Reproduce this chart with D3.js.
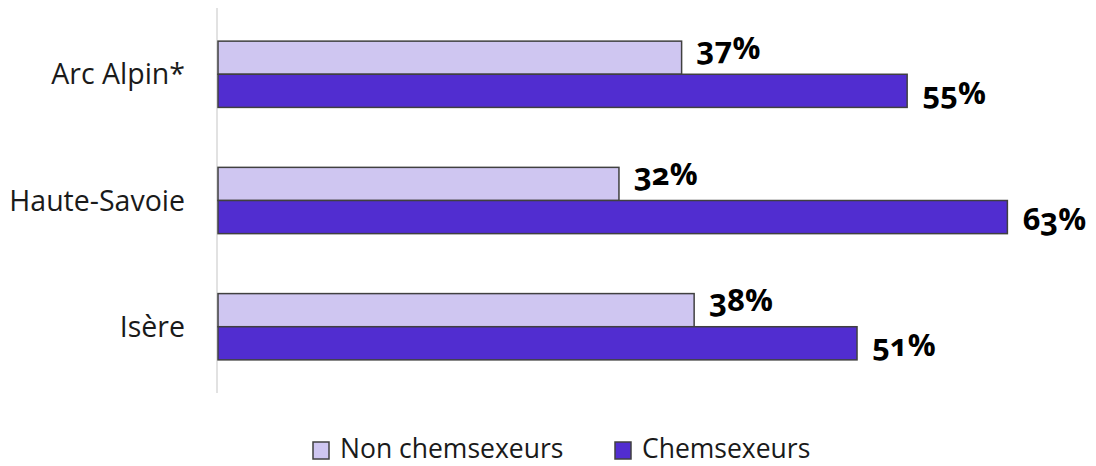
<!DOCTYPE html>
<html><head><meta charset="utf-8">
<script src="https://cdn.jsdelivr.net/npm/d3@7"></script>
<style>
body{margin:0;background:#fff;}
svg text{font-family:"Open Sans",sans-serif;}
</style></head>
<body><svg id="c" width="1096" height="466"></svg>
<script>
const categories = ["Arc Alpin*", "Haute-Savoie", "Isère"];
const seriesNames = ["Non chemsexeurs", "Chemsexeurs"];
const nonChem = [0.37, 0.32, 0.38];
const chem = [0.55, 0.63, 0.51];
const colors = ["#cfc6f1", "#512dd0"];

const svg = d3.select("#c");
const x0 = 218;
const x = d3.scaleLinear().domain([0, 1]).range([x0, x0 + 1253]);
const y = d3.scaleBand().domain(categories).range([8, 393]).paddingInner(0.475).paddingOuter(0.2625);
const yIn = d3.scaleBand().domain(seriesNames).range([0, y.bandwidth()]);

const rows = categories.map((c, i) => ({cat: c, vals: [nonChem[i], chem[i]]}));

// axis line
svg.append("line").attr("x1", 217).attr("x2", 217).attr("y1", 8).attr("y2", 393)
  .attr("stroke", "#d9d9d9").attr("stroke-width", 1.5);

const g = svg.selectAll("g.grp").data(rows).join("g").attr("class", "grp")
  .attr("transform", d => `translate(0,${y(d.cat)})`);

g.selectAll("rect").data(d => d.vals.map((v, k) => ({v, k}))).join("rect")
  .attr("x", x(0)).attr("y", d => yIn(seriesNames[d.k]))
  .attr("width", d => x(d.v) - x(0)).attr("height", yIn.bandwidth())
  .attr("fill", d => colors[d.k]).attr("stroke", "#404040").attr("stroke-width", 1.5);

g.selectAll("text.val").data(d => d.vals.map((v, k) => ({v, k}))).join("text")
  .attr("class", "val")
  .attr("x", d => x(d.v) + 15)
  .attr("y", d => yIn(seriesNames[d.k]) + yIn.bandwidth() / 2 + (d.k === 0 ? 1 : 13))
  .attr("font-size", 31).attr("font-weight", "bold").attr("fill", "#000")
  .style("font-feature-settings", '"onum" 1')
  .text(d => d3.format(".0%")(d.v));

svg.selectAll("text.cat").data(categories).join("text").attr("class", "cat")
  .attr("x", 185).attr("y", d => y(d) + y.bandwidth() / 2 + 10)
  .attr("text-anchor", "end").attr("font-size", 28.5).attr("fill", "#1a1a1a")
  .text(d => d);

// legend
const legX = [313, 615];
const lg = svg.selectAll("g.leg").data(seriesNames).join("g").attr("class", "leg")
  .attr("transform", (d, i) => `translate(${legX[i]},442)`);
lg.append("rect").attr("width", 16).attr("height", 17).attr("fill", (d, i) => colors[i])
  .attr("stroke", "#404040").attr("stroke-width", 1.5);
lg.append("text").attr("x", 27).attr("y", 15.5).attr("font-size", 26.5).attr("fill", "#1a1a1a")
  .text(d => d);
</script></body></html>
